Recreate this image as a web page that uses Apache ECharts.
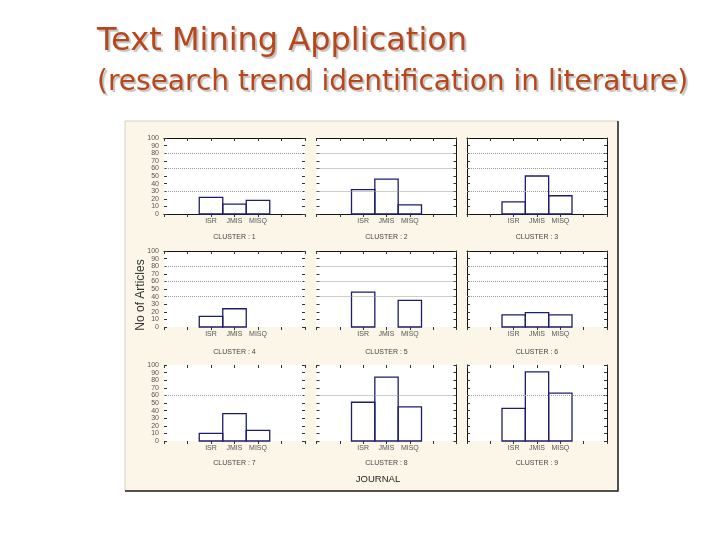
<!DOCTYPE html>
<html><head><meta charset="utf-8">
<script src="https://cdn.jsdelivr.net/npm/echarts@6/dist/echarts.min.js"></script>
<style>html,body{margin:0;padding:0;background:#fff}#c{width:720px;height:540px}</style>
</head><body><div id="c"></div>
<script>
// ---- data ----
const journals = ['ISR', 'JMIS', 'MISQ'];
const clusterLabels = ['CLUSTER : 1', 'CLUSTER : 2', 'CLUSTER : 3',
                       'CLUSTER : 4', 'CLUSTER : 5', 'CLUSTER : 6',
                       'CLUSTER : 7', 'CLUSTER : 8', 'CLUSTER : 9'];
const isrCounts  = [22, 32, 16, 14, 46, 16, 10, 51, 43];
const jmisCounts = [13, 46, 50, 24, 0, 19, 36, 84, 91];
const misqCounts = [18, 12, 24, 0, 35, 16, 14, 45, 63];
const yMin = 0, yMax = 100, yStep = 10;
const rowGridValues = [[30, 60, 80], [40, 60, 80], [60]];
const titleMain = 'Text Mining Application';
const titleSub = '(research trend identification in literature)';
const xTitle = 'JOURNAL';
const yTitle = 'No of Articles';

// ---- layout ----
const colLeft = [164, 316.5, 467];
const colWidth = [141, 140, 140];
const rowTop = [138, 251, 365];
const rowHeight = 76;
const nameGaps = [19.5, 21.5, 19];
const xMaxSlot = journals.length + 3;

const grids = [], xAxes = [], yAxes = [], series = [];
for (let i = 0; i < 9; i++) {
  const r = Math.floor(i / 3), c = i % 3;
  grids.push({left: colLeft[c], top: rowTop[r], width: colWidth[c], height: rowHeight,
              show: true, backgroundColor: '#ffffff', borderWidth: 0});
  xAxes.push({
    gridIndex: i, type: 'value', min: 0, max: xMaxSlot, interval: 1, position: 'bottom',
    axisLine: {show: r === 0, onZero: false, lineStyle: {color: '#111', width: 1.2}},
    axisTick: {show: true, inside: false, length: 3, lineStyle: {color: '#333'}},
    axisLabel: {formatter: v => journals[v - 2] || '', fontSize: 7, color: '#555', margin: 4,
                fontFamily: 'Liberation Sans', showMinLabel: true, showMaxLabel: true},
    splitLine: {show: false},
    name: clusterLabels[i], nameLocation: 'middle', nameGap: nameGaps[r],
    nameTextStyle: {fontSize: 7, color: '#444', fontFamily: 'Liberation Sans'}
  });
  xAxes.push({
    gridIndex: i, type: 'value', min: 0, max: xMaxSlot, interval: 1, position: 'top',
    axisLine: {show: r < 2, onZero: false, lineStyle: {color: '#111', width: 1.2}},
    axisTick: {show: true, inside: true, length: 3, lineStyle: {color: '#333'}},
    axisLabel: {show: false}, splitLine: {show: false}
  });
  yAxes.push({
    gridIndex: i, type: 'value', min: yMin, max: yMax, interval: yStep, position: 'left',
    axisLine: {show: c === 2, onZero: false, lineStyle: {color: '#111', width: 1}},
    axisTick: {show: true, inside: true, length: 3, lineStyle: {color: '#333'}},
    axisLabel: {show: c === 0, fontSize: 7, color: '#555', margin: 5, fontFamily: 'Liberation Sans'},
    splitLine: {show: false}
  });
  yAxes.push({
    gridIndex: i, type: 'value', min: yMin, max: yMax, interval: yStep, position: 'right',
    axisLine: {show: c > 0, onZero: false, lineStyle: {color: '#111', width: 1}},
    axisTick: {show: true, inside: true, length: 3, lineStyle: {color: '#333'}},
    axisLabel: {show: false}, splitLine: {show: false}
  });
  const vals = [isrCounts[i], jmisCounts[i], misqCounts[i]];
  series.push({
    type: 'custom', xAxisIndex: 2 * i, yAxisIndex: 2 * i, silent: true,
    data: vals.map((v, k) => [k + 2, v]),
    renderItem: (params, api) => {
      const x = api.value(0), y = api.value(1);
      if (!(y > 0)) return null;
      const p0 = api.coord([x - 0.5, y]);
      const p1 = api.coord([x + 0.5, 0]);
      return {type: 'rect', shape: {x: p0[0], y: p0[1], width: p1[0] - p0[0], height: p1[1] - p0[1]},
              style: {fill: 'none', stroke: '#1d1d6e', lineWidth: 1.3}};
    },
    markLine: {
      silent: true, symbol: ['none', 'none'], animation: false,
      label: {show: false},
      lineStyle: {type: 'dotted', color: '#9a9a9a', width: 1},
      data: rowGridValues[r].map(v => ({yAxis: v}))
    },
    z: 3
  });
}

const chart = echarts.init(document.getElementById('c'), null, {renderer: 'canvas'});
chart.setOption({
  animation: false,
  backgroundColor: '#ffffff',
  grid: grids, xAxis: xAxes, yAxis: yAxes, series: series,
  graphic: [
    {type: 'rect', z: -1, shape: {x: 125, y: 121, width: 493, height: 370},
     style: {fill: '#fbf6e7', stroke: '#d6d0be', lineWidth: 1}},
    {type: 'polyline', z: 5, shape: {points: [[618, 121], [618, 491], [125, 491]]},
     style: {fill: 'none', stroke: '#222', lineWidth: 1.5}},
    {type: 'text', z: 10, x: 97, y: 42, style: {text: titleMain, fill: '#b8461b',
      font: '32px "DejaVu Sans"', verticalAlign: 'middle', align: 'left',
      textShadowColor: 'rgba(120,120,120,0.45)', textShadowOffsetX: 2, textShadowOffsetY: 2, textShadowBlur: 1}},
    {type: 'text', z: 10, x: 97, y: 83, style: {text: titleSub, fill: '#b8461b',
      font: '28px "DejaVu Sans"', verticalAlign: 'middle', align: 'left',
      textShadowColor: 'rgba(120,120,120,0.45)', textShadowOffsetX: 2, textShadowOffsetY: 2, textShadowBlur: 1}},
    {type: 'text', z: 10, x: 378, y: 479, style: {text: xTitle, fill: '#222',
      font: '9.5px "Liberation Sans"', verticalAlign: 'middle', align: 'center'}},
    {type: 'text', z: 10, x: 141, y: 295, rotation: Math.PI / 2, style: {text: yTitle, fill: '#333',
      font: '12px "Liberation Sans"', verticalAlign: 'middle', align: 'center'}}
  ]
});
</script></body></html>
